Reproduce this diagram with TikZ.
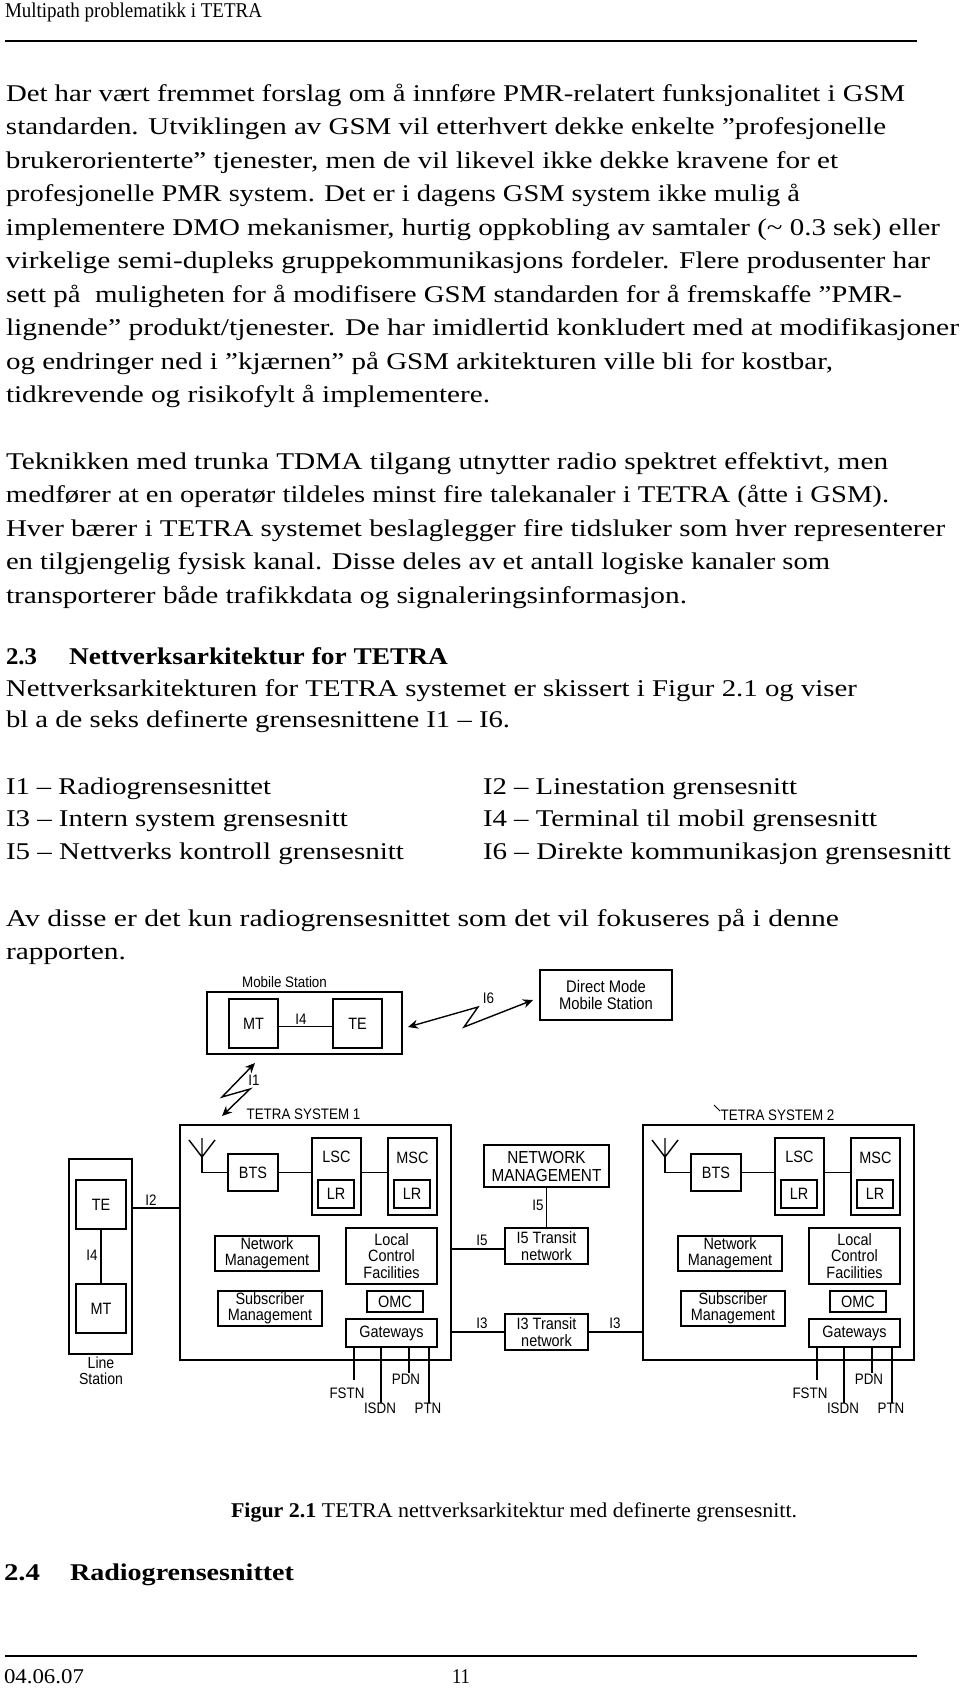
\documentclass[tikz,border=0pt]{standalone}
\usepackage{graphicx}
\usepackage{fontspec}
\setmainfont{Liberation Serif}
\newfontfamily\diagsans{Liberation Sans}[FakeStretch=0.88]
\usetikzlibrary{arrows.meta}
\newcommand\dgfont{\diagsans\fontsize{8.2pt}{8.2pt}\selectfont}
\newcommand\lbfont{\diagsans\fontsize{7.6pt}{8pt}\selectfont}
\newcommand\txl[5][]{\node[bodyt,#1] (#2) at (#3) {\resizebox{#4pt}{\height}{#5}};}
\tikzset{
  bodyt/.style={anchor=base west, inner sep=0pt, outer sep=0pt, font=\fontsize{12pt}{14pt}\selectfont},
  smallt/.style={font=\fontsize{10.5pt}{12pt}\selectfont},
  bx/.style={draw, line width=0.7pt, inner sep=0pt, align=center, font=\dgfont},
  lbl/.style={inner sep=0pt, align=center, font=\lbfont},
  wire/.style={line width=0.7pt},
  rule/.style={line width=0.6pt},
  arr/.style={line width=0.7pt, {Stealth[length=5pt,width=4.5pt]}-{Stealth[length=5pt,width=4.5pt]}},
}
\newcommand\tetrasys[3]{%
\begin{scope}[shift={(#2,0)}]
\node[bx, minimum width=135.5pt, minimum height=117.5pt] (#1sys) at (315.5,1242.5) {};
\node[bx, minimum width=25pt, minimum height=18.5pt] (#1bts) at (253,1172.5) {BTS};
\node[bx, minimum width=24.5pt, minimum height=38.5pt] (#1lsc) at (336.5,1176.5) {};
\node[lbl, font=\dgfont] (#1lsct) at (336.5,1157) {LSC};
\node[bx, minimum width=18pt, minimum height=14pt] (#1lra) at (336,1194) {LR};
\node[bx, minimum width=24.5pt, minimum height=38.5pt] (#1msc) at (412.5,1176.5) {};
\node[lbl, font=\dgfont] (#1msct) at (412.5,1158) {MSC};
\node[bx, minimum width=18pt, minimum height=14pt] (#1lrb) at (412,1194) {LR};
\node[bx, minimum width=52pt, minimum height=17.5pt] (#1nm) at (267,1253.5) {Network\\Management};
\node[bx, minimum width=45.5pt, minimum height=28pt] (#1lcf) at (391.5,1256) {Local\\Control\\Facilities};
\node[bx, minimum width=52pt, minimum height=17.5pt] (#1sm) at (270,1308.5) {Subscriber\\Management};
\node[bx, minimum width=28pt, minimum height=10.5pt] (#1omc) at (395,1301.5) {OMC};
\node[bx, minimum width=45.5pt, minimum height=14pt] (#1gw) at (391.5,1333) {Gateways};
\coordinate (#1ant) at (202,1157);
\draw[wire] (#1ant) -- +(-13,-17) (#1ant) -- +(0,-19) (#1ant) -- +(13,-17);
\draw[wire] (#1ant) -- (#1ant |- #1bts.west) -- (#1bts.west);
\draw[wire] (#1bts.east) -- (#1lsc.west |- #1bts.east);
\draw[wire] (#1lsc.east |- #1bts.east) -- (#1msc.west |- #1bts.east);
\coordinate (#1fe) at (354,1380);
\coordinate (#1ie) at (381,1403);
\coordinate (#1pe) at (409,1373);
\coordinate (#1te) at (429,1403);
\draw[wire] (#1gw.south -| #1fe) -- (#1fe);
\draw[wire] (#1gw.south -| #1ie) -- (#1ie);
\draw[wire] (#1gw.south -| #1pe) -- (#1pe);
\draw[wire] (#1gw.south -| #1te) -- (#1te);
\node[lbl] (#1fstn) at (347,1393) {FSTN};
\node[lbl] (#1isdn) at (380,1408.5) {ISDN};
\node[lbl] (#1pdn) at (406,1379) {PDN};
\node[lbl] (#1ptn) at (428,1408.5) {PTN};
\end{scope}}
\begin{document}
\begin{tikzpicture}[x=0.5pt,y=-0.5pt]
\fill[white] (0,0) rectangle (960,1692);
\useasboundingbox (0,0) rectangle (960,1692);
% header
\txl[smallt]{hdr}{5,17}{128.5}{Multipath problematikk i TETRA}
\coordinate (hrA) at (5,41); \coordinate (hrB) at (917,41);
\draw[rule] (hrA) -- (hrB);
% paragraph 1
\txl{pa1}{6,101}{449.5}{Det har vært fremmet forslag om å innføre PMR-relatert funksjonalitet i GSM}
\txl{pa2}{6,134.5}{440}{standarden. Utviklingen av GSM vil etterhvert dekke enkelte ”profesjonelle}
\txl{pa3}{6,168}{416}{brukerorienterte” tjenester, men de vil likevel ikke dekke kravene for et}
\txl{pa4}{6,201.5}{397}{profesjonelle PMR system. Det er i dagens GSM system ikke mulig å}
\txl{pa5}{6,235}{467}{implementere DMO mekanismer, hurtig oppkobling av samtaler (\textasciitilde{} 0.3 sek) eller}
\txl{pa6}{6,268.5}{462}{virkelige semi-dupleks gruppekommunikasjons fordeler. Flere produsenter har}
\txl{pa7}{6,302}{448}{sett på\ \ muligheten for å modifisere GSM standarden for å fremskaffe ”PMR-}
\txl{pa8}{6,335.5}{476.5}{lignende” produkt/tjenester. De har imidlertid konkludert med at modifikasjoner}
\txl{pa9}{6,369}{413.5}{og endringer ned i ”kjærnen” på GSM arkitekturen ville bli for kostbar,}
\txl{pa10}{6,402.5}{242}{tidkrevende og risikofylt å implementere.}
% paragraph 2
\txl{pb1}{6,469}{441}{Teknikken med trunka TDMA tilgang utnytter radio spektret effektivt, men}
\txl{pb2}{6,502.5}{441.5}{medfører at en operatør tildeles minst fire talekanaler i TETRA (åtte i GSM).}
\txl{pb3}{6,536}{469.5}{Hver bærer i TETRA systemet beslaglegger fire tidsluker som hver representerer}
\txl{pb4}{6,569.5}{412}{en tilgjengelig fysisk kanal. Disse deles av et antall logiske kanaler som}
\txl{pb5}{6,603}{340.5}{transporterer både trafikkdata og signaleringsinformasjon.}
% heading 2.3
\txl{h23n}{6,664}{15.5}{\bfseries 2.3}
\txl{h23t}{69,664}{189.5}{\bfseries Nettverksarkitektur for TETRA}
\txl{pc1}{6,696}{425.5}{Nettverksarkitekturen for TETRA systemet er skissert i Figur 2.1 og viser}
\txl{pc2}{6,727.5}{252}{bl a de seks definerte grensesnittene I1 – I6.}
% list
\txl{li1}{6,794}{132.5}{I1 – Radiogrensesnittet}
\txl{li3}{6,826.5}{171}{I3 – Intern system grensesnitt}
\txl{li5}{6,859}{199}{I5 – Nettverks kontroll grensesnitt}
\txl{li2}{483,794}{157}{I2 – Linestation grensesnitt}
\txl{li4}{483,826.5}{197}{I4 – Terminal til mobil grensesnitt}
\txl{li6}{483,859}{234}{I6 – Direkte kommunikasjon grensesnitt}
\txl{pd1}{6,926}{416.5}{Av disse er det kun radiogrensesnittet som det vil fokuseres på i denne}
\txl{pd2}{6,959}{60}{rapporten.}
% ---------------- diagram ----------------
% mobile station
\node[lbl] (mslbl) at (284.5,982) {Mobile Station};
\node[bx, minimum width=97.5pt, minimum height=31pt] (ms) at (304.5,1023) {};
\node[bx, minimum width=24.5pt, minimum height=24.5pt] (msmt) at (253.5,1023.5) {MT};
\node[bx, minimum width=24.5pt, minimum height=24.5pt] (mste) at (357.5,1023.5) {TE};
\draw[wire] ([yshift=-1.5pt]msmt.east) -- ([yshift=-1.5pt]mste.west);
\node[lbl] (msi4) at (301,1019) {I4};
% direct mode
\node[bx, minimum width=66pt, minimum height=25pt, font=\diagsans\fontsize{8.4pt}{8.6pt}\selectfont] (dm) at (606,995) {Direct Mode\\Mobile Station};
% I6
\coordinate (i6a) at (408,1027); \coordinate (i6b) at (478,1007);
\coordinate (i6c) at (464,1027); \coordinate (i6d) at (533,1000);
\draw[arr] (i6a) -- (i6b) -- (i6c) -- (i6d);
\node[lbl] (i6l) at (488.5,998) {I6};
% I1
\coordinate (i1a) at (255,1063); \coordinate (i1b) at (222,1097);
\coordinate (i1c) at (250,1089); \coordinate (i1d) at (222,1116);
\draw[arr] (i1a) -- (i1b) -- (i1c) -- (i1d);
\node[lbl] (i1l) at (254,1080) {I1};
% system labels
\node[lbl] (s1lbl) at (303.5,1114) {TETRA SYSTEM 1};
\node[lbl] (s2lbl) at (777.5,1115) {TETRA SYSTEM 2};
\coordinate (tkA) at (714,1105); \coordinate (tkB) at (720,1111);
\draw[line width=0.5pt] (tkA) -- (tkB);
% systems
\tetrasys{A}{0}{1}
\tetrasys{B}{463}{2}
% line station
\node[bx, minimum width=31.5pt, minimum height=97.5pt] (ls) at (100.5,1256.5) {};
\node[bx, minimum width=25pt, minimum height=24.5pt] (lste) at (101,1204.5) {TE};
\node[bx, minimum width=25pt, minimum height=24.5pt] (lsmt) at (101,1308.5) {MT};
\draw[wire] (lste.south) -- (lsmt.north);
\node[lbl] (lsi4) at (92,1255) {I4};
\node[lbl, font=\diagsans\fontsize{8pt}{8pt}\selectfont] (lslbl) at (101,1371) {Line\\Station};
\coordinate (i2y) at (0,1208);
\draw[wire] (ls.east |- i2y) -- (Asys.west |- i2y);
\node[lbl] (i2l) at (151,1200) {I2};
% network management and transit networks
\node[bx, minimum width=62.5pt, minimum height=21pt, font=\diagsans\fontsize{8.7pt}{9pt}\selectfont] (nm) at (546.5,1166) {NETWORK\\MANAGEMENT};
\node[bx, minimum width=41.5pt, minimum height=18pt] (i5t) at (546.5,1246) {I5 Transit\\network};
\node[bx, minimum width=41.5pt, minimum height=18pt] (i3t) at (546.5,1332) {I3 Transit\\network};
\draw[wire] (nm.south) -- (i5t.north);
\node[lbl] (i5v) at (538,1205) {I5};
\coordinate (i5y) at (0,1249);
\draw[wire] (Asys.east |- i5y) -- (i5t.west |- i5y);
\node[lbl] (i5h) at (482,1240) {I5};
\draw[wire] (Asys.east |- i3t.west) -- (i3t.west);
\draw[wire] (i3t.east) -- (Bsys.west |- i3t.east);
\node[lbl] (i3a) at (482,1323) {I3};
\node[lbl] (i3b) at (615,1323) {I3};
% caption and following heading
\txl[smallt]{cap}{231,1517}{283}{\textbf{Figur 2.1} TETRA nettverksarkitektur med definerte grensesnitt.}
\txl{h24n}{4,1580}{18}{\bfseries 2.4}
\txl{h24t}{70,1580}{112}{\bfseries Radiogrensesnittet}
% footer
\coordinate (frA) at (5,1656); \coordinate (frB) at (917,1656);
\draw[rule] (frA) -- (frB);
\txl[smallt]{fdate}{4,1683}{40}{04.06.07}
\txl[smallt]{fpage}{452,1683}{9}{11}
\end{tikzpicture}
\end{document}
